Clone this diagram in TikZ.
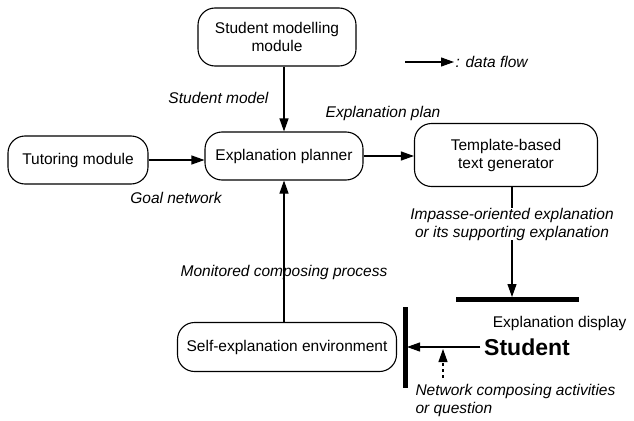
\documentclass[tikz,border=0pt]{standalone}
\usepackage{fontspec}
\setmainfont{Liberation Sans}
\usetikzlibrary{arrows.meta,positioning}

\begin{document}
\begin{tikzpicture}[
        x=1pt,y=-1pt,
        line width=1.1pt,
        font=\fontsize{15.5}{18}\selectfont,
        box/.style={draw,rounded corners=17pt,align=center,inner sep=0pt},
        lbl/.style={font=\fontsize{15.5}{18}\selectfont\itshape,inner sep=1pt},
        flow/.style={-{Triangle[length=13pt,width=9pt]}},
        bar/.style={line width=5pt}
    ]
    \useasboundingbox (0,0) rectangle (634,420);

    % modules
    \node (smm)  [box,minimum width=158pt,minimum height=58pt] at (277,37)
        {Student modelling\\module};
    \node (tut)  [box,minimum width=140pt,minimum height=48pt] at (78,160)
        {Tutoring module};
    \node (plan) [box,minimum width=158pt,minimum height=48pt] at (284,156)
        {Explanation planner};
    \node (tmpl) [box,minimum width=183pt,minimum height=63pt] at (506,155)
        {Template-based\\text generator};
    \node (self) [box,minimum width=219pt,minimum height=49pt] at (287,347)
        {Self-explanation environment};
    \node (stud) [font=\fontsize{23}{26}\selectfont\bfseries] at (527,347) {Student};

    % display and input bars
    \coordinate (d1) at (456,299);
    \coordinate (d2) at (579,299);
    \coordinate (b1) at (405,307);
    \coordinate (b2) at (405,388);
    \draw[bar] (d1) -- (d2);
    \draw[bar] (b1) -- (b2);
    \node (disp) [anchor=west] at (489,323) {Explanation display};

    % legend
    \coordinate (lg1) at (405,62);
    \coordinate (lg2) at (454,62);
    \draw[flow] (lg1) -- (lg2);
    \node [lbl,anchor=west] at (lg2) {: data flow};

    % data flows
    \draw[flow] (smm.south -| plan.north) -- (plan.north);
    \draw[flow] (tut.east) -- (tut.east -| plan.west);
    \draw[flow] (plan.east) -- (plan.east -| tmpl.west);
    \draw[flow] (self.north -| plan.south) -- (plan.south);

    \coordinate (tout) at (512,186);
    \coordinate (din)  at (512,297);
    \draw[flow] (tout) -- (din);
    \node (imp) [lbl,fill=white,align=center,inner sep=0pt] at (512,224)
        {Impasse-oriented explanation\\or its supporting explanation};

    \coordinate (bin) at (407,347);
    \draw[flow] (stud.west) -- (bin);
    \coordinate (nca) at (443,378);
    \coordinate (ncb) at (443,349);
    \draw[flow,dashed] (nca) -- (ncb);

    % labels
    \node [lbl,anchor=east] at (270,98)  {Student model};
    \node [lbl] at (176,198) {Goal network};
    \node [lbl] at (383,113) {Explanation plan};
    \node [lbl] at (284,272) {Monitored composing process};
    \node [lbl,anchor=west,align=left] at (414,400)
        {Network composing activities\\or question};
\end{tikzpicture}
\end{document}
